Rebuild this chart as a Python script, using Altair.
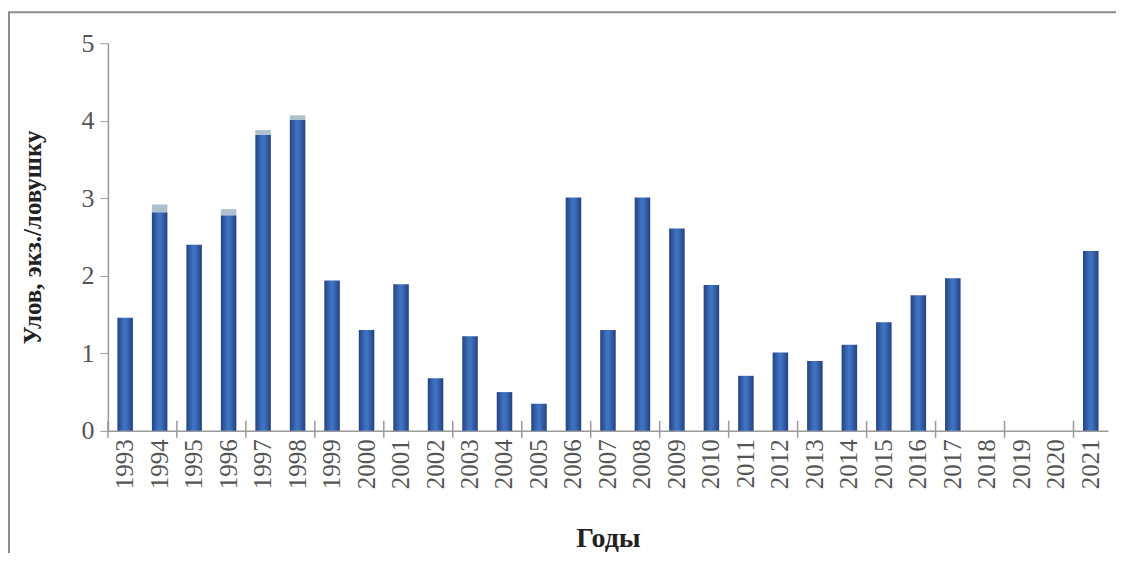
import altair as alt
import pandas as pd

years = [str(y) for y in range(1993, 2022)]
catch = [1.46, 2.82, 2.40, 2.78, 3.82, 4.01, 1.94, 1.30, 1.89, 0.68,
         1.22, 0.50, 0.35, 3.01, 1.30, 3.01, 2.61, 1.88, 0.71, 1.01,
         0.90, 1.11, 1.40, 1.75, 1.97, 0.0, 0.0, 0.0, 2.32]
cap = [0.0, 0.10, 0.0, 0.08, 0.06, 0.06] + [0.0] * 23
tick_years = years[0::2]

df = pd.DataFrame({"year": years, "catch": catch, "cap": cap})
df["top"] = df["catch"] + df["cap"]
ticks_df = pd.DataFrame({"year": tick_years})

FONT = "Liberation Serif"
W, H = 1001, 388

xscale = alt.Scale(domain=years, paddingInner=0.55, paddingOuter=0.275)

grad = alt.Gradient(
    gradient="linear", x1=0, x2=1, y1=0, y2=0,
    stops=[alt.GradientStop(offset=0, color="#24437f"),
           alt.GradientStop(offset=0.45, color="#4074c4"),
           alt.GradientStop(offset=0.6, color="#3c6dbc"),
           alt.GradientStop(offset=1, color="#23417d")])

base = alt.Chart(df)

bars = base.mark_bar(color=grad).encode(
    x=alt.X("year:O", scale=xscale, sort=years,
            axis=alt.Axis(title="Годы", labelAngle=-90, ticks=False, grid=False,
                          labelFont=FONT, labelFontSize=25, labelColor="#555555",
                          labelPadding=8, labelOverlap=False,
                          domainColor="#9a9a9a", domainWidth=1.5,
                          titleFont=FONT, titleFontSize=28, titleFontWeight="bold",
                          titleColor="#222222", titlePadding=36)),
    y=alt.Y("catch:Q", scale=alt.Scale(domain=[0, 5]),
            axis=alt.Axis(title="Улов, экз./ловушку", values=[0, 1, 2, 3, 4, 5],
                          format="d", grid=False, tickSize=8, tickColor="#9a9a9a",
                          domainColor="#9a9a9a", domainWidth=1.5,
                          labelFont=FONT, labelFontSize=26, labelColor="#555555",
                          labelPadding=6,
                          titleFont=FONT, titleFontSize=25, titleFontWeight="bold",
                          titleColor="#222222", titlePadding=35)),
)

caps = base.mark_bar(color="#aebfce").encode(
    x=alt.X("year:O", scale=xscale, sort=years),
    y=alt.Y("catch:Q"),
    y2="top:Q",
)

xticks = alt.Chart(ticks_df).mark_rule(color="#9a9a9a", strokeWidth=1.5, xOffset=-9.5).encode(
    x=alt.X("year:O", scale=xscale, sort=years, bandPosition=0),
    y=alt.value(H - 10),
    y2=alt.value(H + 7),
)

frame = alt.Chart(pd.DataFrame({"a": [0]})).mark_rect(
    fill=None, stroke="#8c8c8c", strokeWidth=2).encode(
    x=alt.value(-99), x2=alt.value(1010), y=alt.value(-31), y2=alt.value(640))

chart = alt.layer(frame, bars, caps, xticks).properties(
    width=W, height=H,
    autosize="none",
    background="white",
    padding={"left": 100, "top": 35, "right": 8, "bottom": 122},
).configure_view(strokeWidth=0, stroke="transparent")

chart.save("out.html", embed_options={"renderer": "svg", "actions": False})
